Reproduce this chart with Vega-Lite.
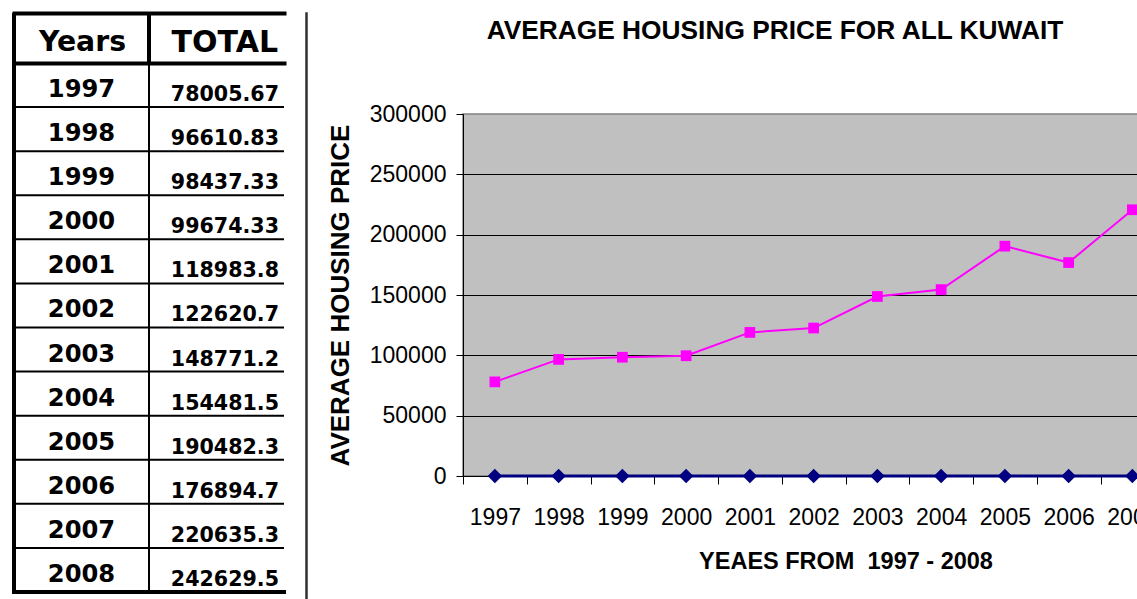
{
  "$schema": "https://vega.github.io/schema/vega-lite/v6.json",
  "background": "white",
  "padding": {"left": 11, "top": 11, "right": 0, "bottom": 0},
  "config": {"view": {"stroke": null}, "font": "Liberation Sans"},
  "datasets": {
    "housing": [
      {"Year": 1997, "Total": 78005.67, "Base": 0},
      {"Year": 1998, "Total": 96610.83, "Base": 0},
      {"Year": 1999, "Total": 98437.33, "Base": 0},
      {"Year": 2000, "Total": 99674.33, "Base": 0},
      {"Year": 2001, "Total": 118983.8, "Base": 0},
      {"Year": 2002, "Total": 122620.7, "Base": 0},
      {"Year": 2003, "Total": 148771.2, "Base": 0},
      {"Year": 2004, "Total": 154481.5, "Base": 0},
      {"Year": 2005, "Total": 190482.3, "Base": 0},
      {"Year": 2006, "Total": 176894.7, "Base": 0},
      {"Year": 2007, "Total": 220635.3, "Base": 0},
      {"Year": 2008, "Total": 242629.5, "Base": 0}
    ],
    "header": [{"col": "Years"}, {"col": "TOTAL"}]
  },
  "spacing": 18,
  "hconcat": [
    {
      "spacing": 0,
      "bounds": "flush",
      "vconcat": [
        {
          "width": 270,
          "height": 50,
          "data": {"name": "header"},
          "layer": [
            {
              "mark": {"type": "rule", "color": "black", "strokeWidth": 4},
              "encoding": {
                "x": {"field": "col", "type": "nominal", "bandPosition": 0,
                  "scale": {"type": "band", "domain": ["Years", "TOTAL"], "paddingInner": 0, "paddingOuter": 0},
                  "axis": {"orient": "top", "title": null, "labels": false, "ticks": false, "domainColor": "black", "domainWidth": 4, "domainCap": "square"}}
              }
            },
            {
              "transform": [{"filter": "datum.col === 'Years'"}],
              "mark": {"type": "text", "font": "DejaVu Sans", "fontWeight": "bold", "fontSize": 28.3, "dy": 5, "dx": 1, "color": "black"},
              "encoding": {
                "x": {"field": "col", "type": "nominal", "bandPosition": 0.5,
                  "scale": {"type": "band", "domain": ["Years", "TOTAL"], "paddingInner": 0, "paddingOuter": 0},
                  "axis": {"orient": "top", "title": null, "labels": false, "ticks": false, "domainColor": "black", "domainWidth": 4, "domainCap": "square"}},
                "text": {"field": "col", "type": "nominal"}
              }
            },
            {
              "transform": [{"filter": "datum.col === 'TOTAL'"}],
              "mark": {"type": "text", "font": "DejaVu Sans", "fontWeight": "bold", "fontSize": 30, "dy": 5, "dx": -6, "align": "right", "color": "black"},
              "encoding": {
                "x": {"field": "col", "type": "nominal", "bandPosition": 1,
                  "scale": {"type": "band", "domain": ["Years", "TOTAL"], "paddingInner": 0, "paddingOuter": 0},
                  "axis": {"orient": "top", "title": null, "labels": false, "ticks": false, "domainColor": "black", "domainWidth": 4, "domainCap": "square"}},
                "text": {"field": "col", "type": "nominal"}
              }
            }
          ]
        },
        {
          "width": 270,
          "height": 529,
          "data": {"name": "housing"},
          "layer": [
            {
              "mark": {"type": "rule", "color": "black", "strokeWidth": 4},
              "encoding": {
                "x": {"datum": "Years", "type": "nominal", "bandPosition": 0,
                  "scale": {"type": "band", "domain": ["Years", "TOTAL"], "paddingInner": 0, "paddingOuter": 0},
                  "axis": {"orient": "top", "title": null, "labels": false, "ticks": false, "domainColor": "black", "domainWidth": 4, "domainCap": "square"}}
              }
            },
            {
              "mark": {"type": "rule", "color": "black", "strokeWidth": 2},
              "encoding": {
                "x": {"datum": "TOTAL", "type": "nominal", "bandPosition": 0,
                  "scale": {"type": "band", "domain": ["Years", "TOTAL"], "paddingInner": 0, "paddingOuter": 0},
                  "axis": {"orient": "top", "title": null, "labels": false, "ticks": false, "domainColor": "black", "domainWidth": 4, "domainCap": "square"}}
              }
            },
            {
              "transform": [{"filter": "datum.Year != 1997"}],
              "mark": {"type": "rule", "color": "black", "strokeWidth": 2},
              "encoding": {
                "y": {"field": "Year", "type": "ordinal", "bandPosition": 0,
                  "scale": {"type": "band", "paddingInner": 0, "paddingOuter": 0}, "axis": null}
              }
            },
            {
              "transform": [{"filter": "datum.Year == 2008"}],
              "mark": {"type": "rule", "color": "black", "strokeWidth": 4, "strokeCap": "square"},
              "encoding": {
                "y": {"field": "Year", "type": "ordinal", "bandPosition": 1,
                  "scale": {"type": "band", "paddingInner": 0, "paddingOuter": 0}, "axis": null}
              }
            },
            {
              "mark": {"type": "text", "font": "DejaVu Sans", "fontWeight": "bold", "fontSize": 24.2, "dy": 5, "color": "black"},
              "encoding": {
                "x": {"datum": "Years", "type": "nominal", "bandPosition": 0.5,
                  "scale": {"type": "band", "domain": ["Years", "TOTAL"], "paddingInner": 0, "paddingOuter": 0},
                  "axis": {"orient": "top", "title": null, "labels": false, "ticks": false, "domainColor": "black", "domainWidth": 4, "domainCap": "square"}},
                "y": {"field": "Year", "type": "ordinal", "bandPosition": 0.5,
                  "scale": {"type": "band", "paddingInner": 0, "paddingOuter": 0}, "axis": null},
                "text": {"field": "Year", "type": "nominal"}
              }
            },
            {
              "mark": {"type": "text", "font": "DejaVu Sans", "fontWeight": "bold", "fontSize": 20.6, "dy": 10, "dx": -5, "align": "right", "color": "black"},
              "encoding": {
                "x": {"datum": "TOTAL", "type": "nominal", "bandPosition": 1,
                  "scale": {"type": "band", "domain": ["Years", "TOTAL"], "paddingInner": 0, "paddingOuter": 0},
                  "axis": {"orient": "top", "title": null, "labels": false, "ticks": false, "domainColor": "black", "domainWidth": 4, "domainCap": "square"}},
                "y": {"field": "Year", "type": "ordinal", "bandPosition": 0.5,
                  "scale": {"type": "band", "paddingInner": 0, "paddingOuter": 0}, "axis": null},
                "text": {"field": "Total", "type": "nominal"}
              }
            }
          ]
        }
      ]
    },
    {
      "width": 1,
      "height": 590,
      "data": {"values": [{}]},
      "mark": {"type": "text"},
      "encoding": {"text": {"value": ""}},
      "view": {"stroke": "#303030", "strokeWidth": 1.5}
    },
    {
      "spacing": 65,
      "bounds": "flush",
      "vconcat": [
        {
          "width": 624,
          "height": 36,
          "data": {"values": [{}]},
          "mark": {"type": "text", "font": "Liberation Sans", "fontWeight": "bold", "fontSize": 26.3, "color": "black"},
          "encoding": {"text": {"value": "AVERAGE HOUSING PRICE FOR ALL KUWAIT"}}
        },
        {
          "width": 765,
          "height": 362,
          "data": {"name": "housing"},
          "view": {"fill": "#C0C0C0", "stroke": "#808080", "strokeWidth": 1.5},
          "encoding": {
            "x": {"field": "Year", "type": "ordinal", "bandPosition": 0.5,
              "scale": {"type": "band", "paddingInner": 0, "paddingOuter": 0},
              "axis": {"title": "YEAES FROM\u00a0 1997 - 2008", "titleFont": "Liberation Sans", "titleFontSize": 23.5, "titleFontWeight": "bold", "titleColor": "black", "titlePadding": 20,
                "labelAngle": 0, "labelFont": "Liberation Sans", "labelFontSize": 23, "labelColor": "black", "labelPadding": 22,
                "tickBand": "extent", "tickSize": 8, "tickColor": "black", "domainColor": "black", "grid": false}}
          },
          "layer": [
            {
              "mark": {"type": "line", "color": "#000080", "strokeWidth": 3},
              "encoding": {"y": {"field": "Base", "type": "quantitative", "scale": {"domain": [0, 300000], "nice": false},
                "axis": {"title": "AVERAGE HOUSING PRICE", "titleFont": "Liberation Sans", "titleFontSize": 26, "titleFontWeight": "bold", "titleColor": "black", "titlePadding": 16,
                  "values": [0, 50000, 100000, 150000, 200000, 250000, 300000], "format": "d",
                  "labelFont": "Liberation Sans", "labelFontSize": 23, "labelColor": "black", "labelPadding": 10,
                  "tickSize": 7, "tickColor": "black", "domainColor": "black",
                  "grid": true, "gridColor": {"condition": {"test": "datum.value === 300000 || datum.value === 0", "value": "transparent"}, "value": "black"}, "gridWidth": 1}}}
            },
            {
              "mark": {"type": "point", "shape": "diamond", "filled": true, "size": 210, "color": "#000080", "opacity": 1},
              "encoding": {"y": {"field": "Base", "type": "quantitative"}}
            },
            {
              "mark": {"type": "line", "color": "#FF00FF", "strokeWidth": 2},
              "encoding": {"y": {"field": "Total", "type": "quantitative"}}
            },
            {
              "mark": {"type": "point", "shape": "square", "filled": true, "size": 115, "color": "#FF00FF", "opacity": 1},
              "encoding": {"y": {"field": "Total", "type": "quantitative"}}
            }
          ]
        }
      ]
    }
  ]
}
